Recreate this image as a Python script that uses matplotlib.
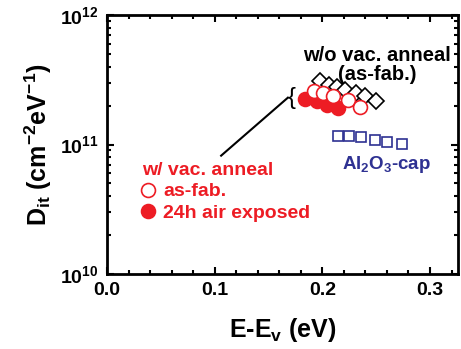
import matplotlib
matplotlib.use('Agg')
import matplotlib.pyplot as plt
from matplotlib.ticker import MultipleLocator, FuncFormatter, LogLocator
import numpy as np

# data (E-Ev in eV, Dit in cm^-2 eV^-1)
wo_anneal_x = [0.198, 0.206, 0.214, 0.221, 0.231, 0.240, 0.250]
wo_anneal_y = [3.07e11, 2.90e11, 2.76e11, 2.65e11, 2.50e11, 2.36e11, 2.18e11]

asfab_x = [0.192, 0.201, 0.210, 0.224, 0.235]
asfab_y = [2.57e11, 2.50e11, 2.36e11, 2.22e11, 1.94e11]

air_x = [0.184, 0.195, 0.204, 0.215]
air_y = [2.25e11, 2.15e11, 2.03e11, 1.92e11]

cap_x = [0.215, 0.225, 0.236, 0.249, 0.260, 0.274]
cap_y = [1.17e11, 1.16e11, 1.14e11, 1.09e11, 1.05e11, 1.01e11]

red = '#ed1c24'
navy = '#2e3192'

plt.rcParams['font.family'] = 'Liberation Sans'
plt.rcParams['font.weight'] = 'bold'
plt.rcParams['mathtext.fontset'] = 'custom'
plt.rcParams['mathtext.bf'] = 'Liberation Sans:bold'
plt.rcParams['mathtext.rm'] = 'Liberation Sans:bold'

fig = plt.figure(figsize=(4.61, 3.49), dpi=100)
ax = fig.add_axes([107/461, 1 - 274/349, 351/461, 259/349])

ax.plot(wo_anneal_x, wo_anneal_y, ls='none', marker='D', ms=8.5, mfc='white',
        mec='black', mew=1.2, zorder=2)
ax.plot(cap_x, cap_y, ls='none', marker='s', ms=7.5, mfc='white',
        mec=navy, mew=1.2, zorder=2)
h_air, = ax.plot(air_x, air_y, ls='none', marker='o', ms=10, mfc=red,
                 mec=red, mew=1.2, zorder=3, label='24h air exposed')
h_fab, = ax.plot(asfab_x, asfab_y, ls='none', marker='o', ms=10, mfc='white',
                 mec=red, mew=1.2, zorder=4, label='as-fab.')

ax.set_yscale('log')
ax.set_xlim(0, 0.326)
ax.set_ylim(1e10, 1e12)

ax.xaxis.set_major_locator(MultipleLocator(0.1))
ax.xaxis.set_minor_locator(MultipleLocator(0.02))
ax.xaxis.set_major_formatter(FuncFormatter(lambda v, p: f'{v:.1f}'))
ax.yaxis.set_major_locator(LogLocator(base=10, numticks=5))
ax.yaxis.set_minor_locator(LogLocator(base=10, subs=np.arange(2, 10), numticks=12))
ax.yaxis.set_major_formatter(FuncFormatter(lambda v, p: r'$\mathbf{10^{%d}}$' % round(np.log10(v))))

ax.tick_params(which='both', direction='in', top=True, right=True, width=1.5)
ax.tick_params(which='major', length=5, labelsize=14)
ax.tick_params(which='minor', length=3)
ax.tick_params(axis='x', pad=6)
ax.tick_params(axis='y', pad=6)
for s in ax.spines.values():
    s.set_linewidth(2)

ax.set_xlabel(r'$\mathbf{E\text{-}E_v}$ (eV)', fontsize=18, fontweight='bold', labelpad=12)
ax.set_ylabel(r'$\mathbf{D_{it}}$ (cm$^{\mathbf{-2}}$eV$^{\mathbf{-1}}$)', fontsize=18,
              fontweight='bold', labelpad=4)

# annotations
ax.text(0.769, 0.807, 'w/o vac. anneal\n(as-fab.)', transform=ax.transAxes,
        ha='center', va='center', fontsize=14.5, fontweight='bold', linespacing=0.95)
ax.text(0.795, 0.421, r'$\mathbf{Al_2O_3}$-cap', transform=ax.transAxes,
        ha='center', va='center', fontsize=13.5, fontweight='bold', color=navy)
ax.text(0.168, 2.3e11, '{', ha='left', va='center', fontsize=17, fontweight='normal')
ax.plot([0.168, 0.106], [2.3e11, 8.2e10], color='black', lw=1.5, zorder=1)

leg = ax.legend(handles=[h_fab, h_air], title='w/ vac. anneal', loc='upper left',
                bbox_to_anchor=(0.06, 0.485), frameon=False, fontsize=14,
                title_fontsize=14, labelcolor=red, handlelength=0.6,
                handletextpad=0.5, borderpad=0.2, labelspacing=0.2,
                alignment='left')
leg.get_title().set_color(red)
leg.get_title().set_fontweight('bold')
for t in leg.get_texts():
    t.set_fontweight('bold')

fig.savefig('out.png', dpi=100)
